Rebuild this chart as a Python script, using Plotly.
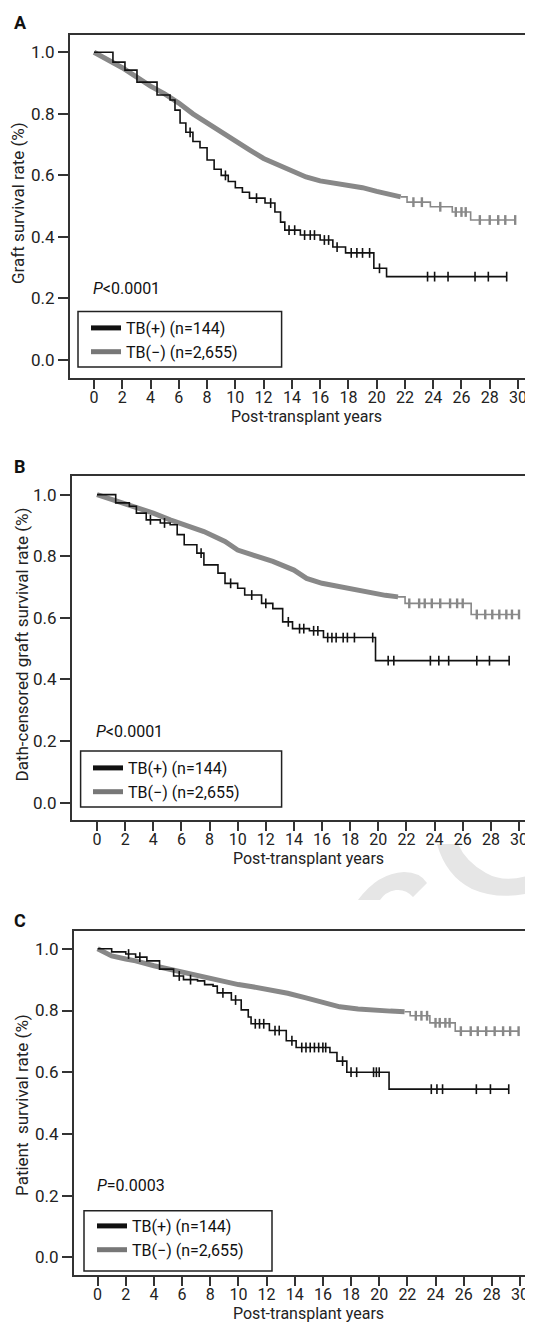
import numpy as np
import plotly.graph_objects as go

# The page body has an 8px default margin; work in window pixels and convert.
OFF = 8
W, H = 533 - OFF, 1323 - OFF
FONT = "Roboto, DejaVu Sans Condensed, sans-serif"

# ---------------- data ----------------
x_ticks = list(range(0, 31, 2))
y_ticks = [0.0, 0.2, 0.4, 0.6, 0.8, 1.0]
y_tick_text = ["0.0", "0.2", "0.4", "0.6", "0.8", "1.0"]
legend_names = ["TB(+) (n=144)", "TB(\u2212) (n=2,655)"]
panel_letters = ["A", "B", "C"]
y_titles = ["Graft survival rate (%)",
            "Dath-censored graft survival rate (%)",
            "Patient  survival rate (%)"]
x_title = "Post-transplant years"
p_texts = ["<i>P</i>&lt;0.0001", "<i>P</i>&lt;0.0001", "<i>P</i>=0.0003"]

# Panel A - graft survival
A_pos_t = [0, 1.34, 2.19, 3.04, 4.46, 5.38, 5.73, 6.09, 6.5, 7.0, 7.5, 8.0, 8.5, 9.0,
           9.5, 10.0, 10.5, 11.0, 12.1, 12.8, 13.2, 13.5, 14.6, 16.0, 16.9, 17.8, 19.8, 20.7]
A_pos_s = [1.0, 0.968, 0.942, 0.903, 0.861, 0.845, 0.812, 0.770, 0.74, 0.71, 0.69, 0.65, 0.62, 0.60,
           0.58, 0.56, 0.545, 0.526, 0.51, 0.481, 0.448, 0.422, 0.406, 0.39, 0.367, 0.348, 0.298, 0.271]
A_pos_end = 29.2
A_pos_cens = [6.8, 9.3, 11.5, 12.5, 13.8, 14.2, 14.9, 15.3, 15.6, 16.3, 16.6, 17.2, 18.2,
              18.6, 19.0, 19.5, 20.2, 23.6, 24.1, 25.05, 26.96, 27.9, 29.2]
A_neg_t = [0, 1, 2, 3, 4, 5, 6, 7, 8, 9, 10, 11, 12, 13, 14, 15, 16, 17, 18, 19, 20, 21, 21.7]
A_neg_s = [1.0, 0.975, 0.95, 0.92, 0.89, 0.865, 0.835, 0.80, 0.77, 0.74, 0.71, 0.683, 0.655,
           0.635, 0.612, 0.595, 0.582, 0.575, 0.569, 0.56, 0.548, 0.535, 0.53]
A_neg_tail_t = [21.7, 22.15, 23.8, 25.35, 26.65]
A_neg_tail_s = [0.53, 0.513, 0.498, 0.481, 0.455]
A_neg_end = 29.8
A_neg_cens = [22.6, 23.2, 24.5, 25.6, 26.0, 26.3, 27.3, 28.0, 28.6, 29.1, 29.8]

# Panel B - death-censored graft survival
B_pos_t = [0, 1.33, 2.3, 2.8, 3.5, 4.5, 5.2, 5.7, 6.2, 7.1, 7.6, 8.6, 9.1, 10.0, 10.5,
           11.7, 12.5, 13.2, 13.9, 15.1, 16.1, 19.8]
B_pos_s = [1.0, 0.973, 0.962, 0.94, 0.918, 0.908, 0.902, 0.87, 0.837, 0.81, 0.772, 0.745, 0.712,
           0.696, 0.674, 0.647, 0.63, 0.587, 0.565, 0.558, 0.536, 0.461]
B_pos_end = 29.3
B_pos_cens = [3.8, 4.8, 7.4, 9.5, 11.0, 12.0, 13.6, 14.4, 14.7, 15.4, 15.7, 16.4, 16.7, 17.0,
              17.5, 17.8, 18.3, 19.6, 20.7, 21.1, 23.7, 24.3, 25.0, 27.0, 27.9, 29.3]
B_neg_t = [0, 1, 2, 2.8, 4, 5.2, 6, 7.6, 9.1, 10, 11, 12.5, 14, 14.9, 16, 17.3, 18.5, 19.7, 20.5, 21.4]
B_neg_s = [1.0, 0.985, 0.97, 0.962, 0.94, 0.918, 0.905, 0.88, 0.848, 0.82, 0.805, 0.783, 0.755,
           0.728, 0.712, 0.70, 0.69, 0.679, 0.673, 0.668]
B_neg_tail_t = [21.4, 21.9, 26.6]
B_neg_tail_s = [0.668, 0.647, 0.611]
B_neg_end = 30.0
B_neg_cens = [22.2, 22.9, 23.3, 23.8, 24.4, 25.1, 25.6, 26.0, 27.0, 27.6, 28.1, 28.6, 29.1, 29.5, 30.0]

# Panel C - patient survival
C_pos_t = [0, 1.0, 2.0, 2.7, 3.5, 4.4, 5.4, 6.1, 7.1, 7.6, 8.2, 8.5, 9.5, 10.2, 10.7, 10.9,
           12.2, 13.4, 14.1, 16.5, 17.0, 17.7, 20.7]
C_pos_s = [1.0, 0.99, 0.983, 0.973, 0.961, 0.934, 0.912, 0.90, 0.896, 0.884, 0.879, 0.857, 0.834,
           0.802, 0.779, 0.757, 0.735, 0.702, 0.68, 0.664, 0.636, 0.60, 0.545]
C_pos_end = 29.2
C_pos_cens = [2.2, 3.0, 5.8, 6.6, 8.9, 9.8, 11.2, 11.5, 11.8, 12.6, 12.9, 13.8, 14.5, 14.8, 15.1,
              15.4, 15.7, 16.0, 16.2, 17.4, 18.0, 18.4, 19.6, 19.8, 20.0, 23.7, 24.1, 24.5,
              26.9, 27.9, 29.2]
C_neg_t = [0, 1, 2, 2.7, 4, 5.1, 6, 7.6, 9, 10, 11, 12.4, 13.5, 14.8, 16, 17.2, 18.5, 19.6, 20.8, 21.8]
C_neg_s = [1.0, 0.977, 0.967, 0.961, 0.945, 0.934, 0.924, 0.906, 0.892, 0.884, 0.877, 0.867,
           0.856, 0.841, 0.826, 0.812, 0.805, 0.80, 0.798, 0.796]
C_neg_tail_t = [21.8, 22.2, 23.6, 25.4]
C_neg_tail_s = [0.796, 0.783, 0.760, 0.733]
C_neg_end = 29.9
C_neg_cens = [22.6, 23.0, 23.4, 24.0, 24.3, 24.7, 25.0, 25.8, 26.5, 27.0, 27.6, 28.2, 28.8, 29.3, 29.9]

# ---------------- geometry (window pixels) ----------------
geom = [
    dict(left=70, top=35, bottom=378, x0=94, x30=518, y1=52.3, y0=360.0, letter_y=23,
         leg_left=86, leg_top=311, box=(78, 311.5, 281.6, 367), ytitle=(18, 203), xtitle_y=416),
    dict(left=72, top=476, bottom=820, x0=97, x30=519, y1=494.6, y0=802.7, letter_y=467,
         leg_left=88, leg_top=751, box=(80.6, 751, 281.6, 807), ytitle=(21.5, 645), xtitle_y=858),
    dict(left=74, top=931, bottom=1275, x0=97.6, x30=520, y1=948.8, y0=1257.3, letter_y=920,
         leg_left=92, leg_top=1209, box=(84, 1210.7, 272, 1271), ytitle=(22, 1105), xtitle_y=1313),
]

panels = [
    dict(pos=(A_pos_t, A_pos_s, A_pos_end, A_pos_cens),
         neg=(A_neg_t, A_neg_s, A_neg_tail_t, A_neg_tail_s, A_neg_end, A_neg_cens)),
    dict(pos=(B_pos_t, B_pos_s, B_pos_end, B_pos_cens),
         neg=(B_neg_t, B_neg_s, B_neg_tail_t, B_neg_tail_s, B_neg_end, B_neg_cens)),
    dict(pos=(C_pos_t, C_pos_s, C_pos_end, C_pos_cens),
         neg=(C_neg_t, C_neg_s, C_neg_tail_t, C_neg_tail_s, C_neg_end, C_neg_cens)),
]

BLACK = "#111111"
GRAY = "#888888"
GRAY_LEG = "#777777"
AXC = "#333333"


def PX(x):
    return (x - OFF) / W


def PY(y):
    return 1 - (y - OFF) / H


def step_at(ts, ss, t):
    i = int(np.searchsorted(np.asarray(ts), t, side="right")) - 1
    return ss[max(i, 0)]


fig = go.Figure()
layout = dict(
    width=W, height=H,
    margin=dict(l=0, r=0, t=0, b=0),
    paper_bgcolor="white", plot_bgcolor="rgba(0,0,0,0)",
    font=dict(family=FONT, size=17, color="#222"),
    showlegend=True,
)
annotations = []
shapes = []

for i, (p, g) in enumerate(zip(panels, geom)):
    sfx = "" if i == 0 else str(i + 1)
    xa, ya = "x" + sfx, "y" + sfx
    leg = "legend" + sfx

    ppu = (g["x30"] - g["x0"]) / 30.0
    xmin = (g["left"] - g["x0"]) / ppu
    xmax = (533 - g["x0"]) / ppu
    yppu = g["y0"] - g["y1"]
    ymax = 1 + (g["y1"] - g["top"]) / yppu
    ymin = -(g["bottom"] - g["y0"]) / yppu

    layout["xaxis" + sfx] = dict(
        domain=[PX(g["left"]), 1.0], range=[xmin, xmax], anchor=ya,
        showline=True, linewidth=2, linecolor=AXC, mirror=True,
        ticks="outside", ticklen=9, tickwidth=1.5, tickcolor=AXC, ticklabelstandoff=-5,
        tickvals=x_ticks, showgrid=False, zeroline=False,
        tickfont=dict(size=16, color="#222"), fixedrange=True,
    )
    layout["yaxis" + sfx] = dict(
        domain=[PY(g["bottom"]), PY(g["top"])], range=[ymin, ymax], anchor=xa,
        showline=True, linewidth=2, linecolor=AXC, mirror=False,
        ticks="outside", ticklen=10, tickwidth=1.5, tickcolor=AXC,
        tickvals=y_ticks, ticktext=y_tick_text, showgrid=False, zeroline=False,
        tickfont=dict(size=17, color="#222"), fixedrange=True,
    )

    # TB(-): dense early part (thick band of tiny steps and censor marks)
    nt, ns, ntt, nts, nend, ncens = p["neg"]
    fig.add_trace(go.Scatter(x=nt, y=ns, mode="lines", line=dict(color=GRAY, width=5),
                             xaxis=xa, yaxis=ya, showlegend=False, hoverinfo="skip"))
    fig.add_trace(go.Scatter(x=list(ntt) + [nend], y=list(nts) + [nts[-1]], mode="lines",
                             line=dict(color=GRAY, width=1.6, shape="hv"),
                             xaxis=xa, yaxis=ya, showlegend=False, hoverinfo="skip"))
    fig.add_trace(go.Scatter(x=ncens, y=[step_at(ntt, nts, c) for c in ncens], mode="markers",
                             marker=dict(symbol="line-ns", size=7, line=dict(color=GRAY, width=2.4)),
                             xaxis=xa, yaxis=ya, showlegend=False, hoverinfo="skip"))

    # TB(+)
    pt, ps, pend, pcens = p["pos"]
    fig.add_trace(go.Scatter(x=list(pt) + [pend], y=list(ps) + [ps[-1]], mode="lines",
                             line=dict(color=BLACK, width=1.6, shape="hv"),
                             xaxis=xa, yaxis=ya, showlegend=False, hoverinfo="skip"))
    fig.add_trace(go.Scatter(x=pcens, y=[step_at(pt, ps, c) for c in pcens], mode="markers",
                             marker=dict(symbol="line-ns", size=7, line=dict(color=BLACK, width=1.6)),
                             xaxis=xa, yaxis=ya, showlegend=False, hoverinfo="skip"))

    # legend entries
    for name, col in zip(legend_names, [BLACK, GRAY_LEG]):
        fig.add_trace(go.Scatter(x=[None], y=[None], mode="lines", name=name,
                                 line=dict(color=col, width=5), legend=leg,
                                 xaxis=xa, yaxis=ya, hoverinfo="skip"))
    layout[leg] = dict(x=PX(g["leg_left"]), y=PY(g["leg_top"]), xanchor="left", yanchor="top",
                       bgcolor="rgba(0,0,0,0)", borderwidth=0,
                       font=dict(size=16, color="#111"), tracegroupgap=0)
    bx0, by0, bx1, by1 = g["box"]
    shapes.append(dict(type="rect", xref="paper", yref="paper",
                       x0=PX(bx0), x1=PX(bx1), y0=PY(by1), y1=PY(by0),
                       line=dict(color="#222", width=1.5), layer="above"))

    # panel letter
    annotations.append(dict(text="<b>%s</b>" % panel_letters[i], xref="paper", yref="paper",
                            x=PX(20), y=PY(g["letter_y"]), xanchor="center", yanchor="middle",
                            showarrow=False, font=dict(size=18, color="#111")))
    # y title
    tx, ty = g["ytitle"]
    annotations.append(dict(text=y_titles[i], xref="paper", yref="paper", x=PX(tx), y=PY(ty),
                            xanchor="center", yanchor="middle", textangle=-90, showarrow=False,
                            font=dict(size=17, color="#222")))
    # x title
    annotations.append(dict(text=x_title, xref=xa, yref="paper", x=15, y=PY(g["xtitle_y"]),
                            xanchor="center", yanchor="middle", showarrow=False, borderpad=0,
                            font=dict(size=16, color="#222")))
    # p value
    annotations.append(dict(text=p_texts[i], xref=xa, yref=ya, x=-0.2, y=0.232,
                            xanchor="left", yanchor="middle", showarrow=False,
                            font=dict(size=16, color="#111")))


def path_px(cmds):
    out = []
    for c in cmds:
        if c[0] == "Z":
            out.append("Z")
            continue
        pts = c[1:]
        coords = ["%.5f,%.5f" % (PX(pts[k]), PY(pts[k + 1])) for k in range(0, len(pts), 2)]
        out.append(c[0] + " " + " ".join(coords))
    return " ".join(out)


# faint watermark fragments between panels B and C
wm1 = [("M", 437, 844), ("Q", 446, 876, 472, 889), ("Q", 500, 901, 533, 892), ("L", 533, 874),
       ("Q", 505, 884, 486, 873), ("Q", 466, 862, 458, 844), ("Z",)]
wm2 = [("M", 358, 900), ("Q", 378, 873, 404, 872), ("Q", 420, 872, 427, 883), ("L", 413, 897),
       ("Q", 406, 889, 396, 890), ("Q", 385, 892, 380, 900), ("Z",)]
for wm in (wm1, wm2):
    shapes.append(dict(type="path", xref="paper", yref="paper", path=path_px(wm),
                       fillcolor="#e6e6e6", line=dict(width=0), layer="below"))

layout["annotations"] = annotations
layout["shapes"] = shapes
fig.update_layout(**layout)
fig.write_html("out.html")
